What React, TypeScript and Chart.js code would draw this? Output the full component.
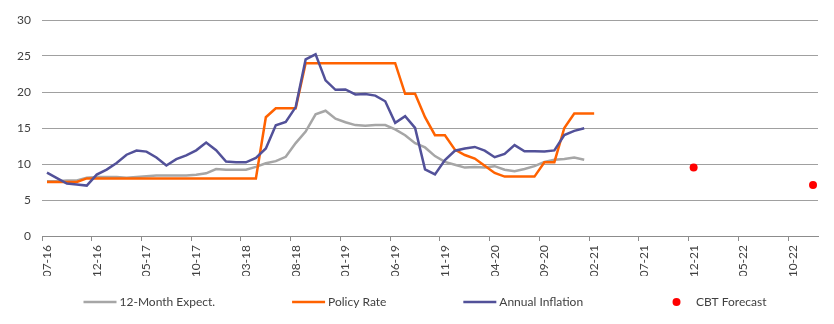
import { useEffect, useRef } from 'react';
import { Chart, registerables } from 'chart.js';

Chart.register(...registerables);

const months = [
  '07-16', '08-16', '09-16', '10-16', '11-16', '12-16',
  '01-17', '02-17', '03-17', '04-17', '05-17', '06-17', '07-17', '08-17', '09-17', '10-17', '11-17', '12-17',
  '01-18', '02-18', '03-18', '04-18', '05-18', '06-18', '07-18', '08-18', '09-18', '10-18', '11-18', '12-18',
  '01-19', '02-19', '03-19', '04-19', '05-19', '06-19', '07-19', '08-19', '09-19', '10-19', '11-19', '12-19',
  '01-20', '02-20', '03-20', '04-20', '05-20', '06-20', '07-20', '08-20', '09-20', '10-20', '11-20', '12-20',
  '01-21', '02-21', '03-21', '04-21', '05-21', '06-21', '07-21', '08-21', '09-21', '10-21', '11-21', '12-21',
  '01-22', '02-22', '03-22', '04-22', '05-22', '06-22', '07-22', '08-22', '09-22', '10-22', '11-22', '12-22',
];
const labelEvery = 5;

const expectations = [
  7.6, 7.6, 7.7, 7.7, 8.1, 8.2, 8.2, 8.2, 8.1, 8.2,
  8.3, 8.4, 8.4, 8.4, 8.4, 8.5, 8.7, 9.3, 9.2, 9.2,
  9.2, 9.6, 10.1, 10.4, 11.0, 12.9, 14.5, 16.9, 17.4, 16.3,
  15.8, 15.4, 15.3, 15.4, 15.4, 14.8, 14.0, 12.9, 12.3, 11.1,
  10.3, 9.9, 9.5, 9.6, 9.5, 9.7, 9.2, 9.0, 9.3, 9.7,
  10.3, 10.6, 10.7, 10.9, 10.6,
];

const policyRate = [
  7.5, 7.5, 7.5, 7.5, 8, 8, 8, 8, 8, 8,
  8, 8, 8, 8, 8, 8, 8, 8, 8, 8,
  8, 8, 16.5, 17.75, 17.75, 17.75, 24, 24, 24, 24,
  24, 24, 24, 24, 24, 24, 19.75, 19.75, 16.5, 14,
  14, 12, 11.25, 10.75, 9.75, 8.75, 8.25, 8.25, 8.25, 8.25,
  10.25, 10.25, 15, 17, 17, 17,
];

const inflation = [
  8.79, 8.05, 7.28, 7.16, 7.0, 8.53, 9.22, 10.13, 11.29, 11.87,
  11.72, 10.9, 9.79, 10.68, 11.2, 11.9, 12.98, 11.92, 10.35, 10.26,
  10.23, 10.85, 12.15, 15.39, 15.85, 17.9, 24.52, 25.24, 21.62, 20.3,
  20.35, 19.67, 19.71, 19.5, 18.71, 15.72, 16.65, 15.01, 9.26, 8.55,
  10.56, 11.84, 12.15, 12.37, 11.86, 10.94, 11.39, 12.62, 11.76, 11.77,
  11.75, 11.89, 14.03, 14.6, 14.97,
];

const forecastMonths = ['12-21', '12-22'];
const forecastValues = [9.5, 7.1];

const yMin = 0;
const yMax = 30;
const yStep = 5;

const FONT = 'Lato, "Open Sans", sans-serif';
const TEXT = '#404040';

const legendPlugin = {
  id: 'bottomLegend',
  afterDraw(chart: any) {
    const { ctx } = chart;
    const datasets = chart.data.datasets;
    ctx.save();
    ctx.font = `12px ${FONT}`;
    ctx.textBaseline = 'middle';
    ctx.textAlign = 'left';
    const sym = 33;
    const symGap = 3;
    const rowWidth = 683;
    const widths = datasets.map((d: any) => sym + symGap + ctx.measureText(d.label).width);
    const total = widths.reduce((a: number, b: number) => a + b, 0);
    const gap = (rowWidth - total) / (datasets.length - 1);
    let x = chart.width / 2 + 8 - rowWidth / 2;
    const y = chart.height - 22;
    datasets.forEach((d: any, i: number) => {
      if (d.showLine === false) {
        ctx.beginPath();
        ctx.fillStyle = d.pointBackgroundColor;
        ctx.arc(x + sym / 2, y, 4, 0, Math.PI * 2);
        ctx.fill();
      } else {
        ctx.beginPath();
        ctx.strokeStyle = d.borderColor;
        ctx.lineWidth = 2.5;
        ctx.moveTo(x, y);
        ctx.lineTo(x + sym, y);
        ctx.stroke();
      }
      ctx.fillStyle = TEXT;
      ctx.fillText(d.label, x + sym + symGap, y);
      x += widths[i] + gap;
    });
    ctx.restore();
  },
};

export default function App() {
  const canvasRef = useRef<HTMLCanvasElement | null>(null);

  useEffect(() => {
    document.body.style.margin = '0';
    const canvas = canvasRef.current;
    if (!canvas) return;
    const chart = new Chart(canvas, {
      type: 'line',
      data: {
        labels: months,
        datasets: [
          {
            label: '12-Month Expect.',
            data: expectations,
            borderColor: '#a6a6a6',
            backgroundColor: '#a6a6a6',
            borderWidth: 2.5,
            pointRadius: 0,
            tension: 0,
            order: 4,
          },
          {
            label: 'Policy Rate',
            data: policyRate,
            borderColor: '#ff6200',
            backgroundColor: '#ff6200',
            borderWidth: 2.5,
            pointRadius: 0,
            tension: 0,
            order: 3,
          },
          {
            label: 'Annual Inflation',
            data: inflation,
            borderColor: '#525199',
            backgroundColor: '#525199',
            borderWidth: 2.5,
            pointRadius: 0,
            tension: 0,
            order: 2,
          },
          {
            label: 'CBT Forecast',
            data: forecastMonths.map((m, i) => ({ x: m, y: forecastValues[i] })),
            showLine: false,
            borderColor: '#ff0000',
            backgroundColor: '#ff0000',
            pointBackgroundColor: '#ff0000',
            pointBorderColor: '#ff0000',
            pointRadius: 4,
            pointBorderWidth: 0,
            order: 1,
          } as any,
        ],
      },
      options: {
        animation: false,
        responsive: true,
        maintainAspectRatio: false,
        layout: { padding: { left: 0, right: 16, top: 20, bottom: 48 } },
        plugins: {
          legend: { display: false },
          tooltip: { enabled: false },
        },
        scales: {
          x: {
            type: 'category',
            offset: true,
            grid: {
              display: true,
              drawOnChartArea: false,
              offset: true,
              tickLength: 5,
              tickWidth: 1,
              tickColor: (c: any) => (c.index !== undefined && c.index % labelEvery === 0 ? '#8c8c8c' : 'rgba(0,0,0,0)'),
            },
            border: { display: true, color: '#8c8c8c', width: 1 },
            ticks: {
              autoSkip: false,
              maxRotation: 90,
              minRotation: 90,
              padding: 4,
              color: TEXT,
              font: { family: FONT, size: 12 },
              callback: (_v: any, i: number) => (i % labelEvery === 0 ? months[i] : ''),
            },
            afterFit: (s: any) => {
              s.height = 40;
            },
          },
          y: {
            min: yMin,
            max: yMax,
            ticks: {
              stepSize: yStep,
              padding: 11,
              color: TEXT,
              font: { family: FONT, size: 12 },
            },
            grid: { color: '#a0a0a0', lineWidth: 1, drawTicks: false },
            border: { display: false },
            afterFit: (s: any) => {
              s.width = 42;
            },
          },
        },
      },
      plugins: [legendPlugin],
    });
    return () => chart.destroy();
  }, []);

  return (
    <div style={{ width: 834, height: 324, position: 'relative' }}>
      <canvas ref={canvasRef} />
    </div>
  );
}
